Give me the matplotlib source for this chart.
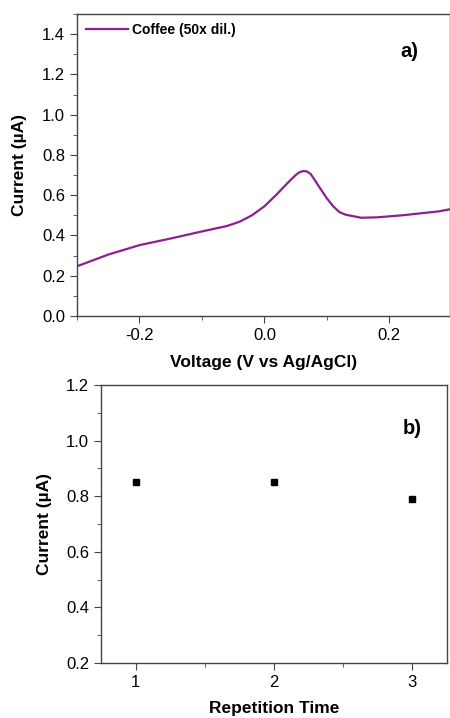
import matplotlib
matplotlib.use("Agg")
import matplotlib.pyplot as plt
from matplotlib.ticker import MultipleLocator

plt.rcParams['font.family'] = ['Liberation Sans', 'DejaVu Sans']
plt.rcParams['axes.unicode_minus'] = False

# a) coffee voltammogram
voltage = [-0.3, -0.25, -0.2, -0.15, -0.1, -0.06, -0.04, -0.02, 0.0, 0.01,
           0.02, 0.03, 0.04, 0.05, 0.056, 0.062, 0.068, 0.074, 0.08, 0.09,
           0.1, 0.11, 0.12, 0.13, 0.14, 0.155, 0.18, 0.2, 0.22, 0.25,
           0.28, 0.3]
current = [0.247, 0.305, 0.352, 0.385, 0.42, 0.447, 0.468, 0.5, 0.545, 0.575,
           0.605, 0.638, 0.67, 0.7, 0.714, 0.72, 0.718, 0.705, 0.678, 0.63,
           0.584, 0.545, 0.516, 0.503, 0.497, 0.488, 0.49, 0.495, 0.5, 0.51,
           0.52, 0.532]

# b) repeated measurements
repetition = [1, 2, 3]
rep_current = [0.85, 0.85, 0.79]

fig = plt.figure(figsize=(4.5, 7.18), dpi=100)

# top panel
ax1 = fig.add_axes([77/450, 1 - 316/718, 1 - 77/450, (316 - 14)/718])
ax1.plot(voltage, current, color='#8e1f8e', lw=1.6, label='Coffee (50x dil.)')
ax1.set_xlim(-0.3, 0.297)
ax1.set_ylim(0, 1.5)
ax1.xaxis.set_major_locator(MultipleLocator(0.2))
ax1.xaxis.set_minor_locator(MultipleLocator(0.1))
ax1.yaxis.set_major_locator(MultipleLocator(0.2))
ax1.yaxis.set_minor_locator(MultipleLocator(0.1))
ax1.set_xlabel('Voltage (V vs Ag/AgCl)', fontweight='bold', fontsize=12.5)
ax1.set_ylabel('Current (µA)', fontweight='bold', fontsize=12.5)
ax1.xaxis.set_label_coords(0.5, -0.128)
ax1.yaxis.set_label_coords(-0.134, 0.5)
ax1.text(0.866, 0.877, 'a)', transform=ax1.transAxes, fontweight='bold',
         fontsize=14.5, va='center')
ax1.legend(loc='upper left', frameon=False, prop={'weight': 'bold', 'size': 10},
           handlelength=3.0, borderaxespad=0.25, handletextpad=0.3)

# bottom panel
ax2 = fig.add_axes([101/450, 1 - 663/718, (447 - 101)/450, (663 - 385)/718])
ax2.plot(repetition, rep_current, 's', color='black', ms=5)
ax2.set_xlim(0.75, 3.25)
ax2.set_ylim(0.2, 1.2)
ax2.xaxis.set_major_locator(MultipleLocator(1))
ax2.xaxis.set_minor_locator(MultipleLocator(0.5))
ax2.yaxis.set_major_locator(MultipleLocator(0.2))
ax2.yaxis.set_minor_locator(MultipleLocator(0.1))
ax2.set_xlabel('Repetition Time', fontweight='bold', fontsize=12.5)
ax2.set_ylabel('Current (µA)', fontweight='bold', fontsize=12.5)
ax2.xaxis.set_label_coords(0.5, -0.138)
ax2.yaxis.set_label_coords(-0.142, 0.5)
ax2.text(0.873, 0.845, 'b)', transform=ax2.transAxes, fontweight='bold',
         fontsize=14.5, va='center')

for ax in (ax1, ax2):
    for s in ax.spines.values():
        s.set_color('#444444')
        s.set_linewidth(1.0)
    ax.tick_params(which='both', direction='out', labelsize=12, color='#444444')
    ax.tick_params(which='major', length=5)
    ax.tick_params(which='minor', length=3)

fig.savefig('out.png', dpi=100)
